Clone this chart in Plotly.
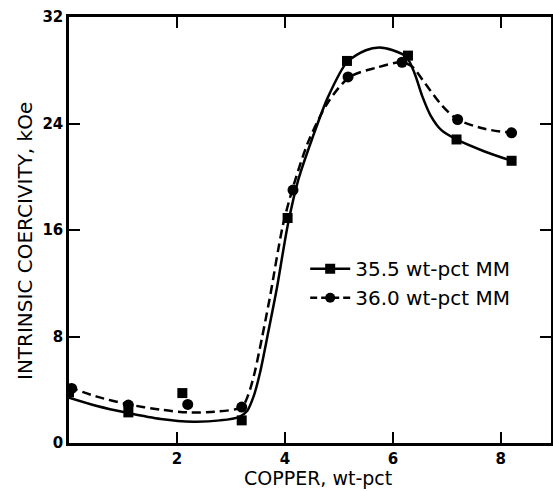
import plotly.graph_objects as go

# Measured data points
cu_a = [0.0, 1.1, 2.1, 3.2, 4.05, 5.15, 6.28, 7.18, 8.2]
hci_a = [3.8, 2.3, 3.75, 1.7, 16.9, 28.7, 29.1, 22.8, 21.2]
cu_b = [0.05, 1.1, 2.2, 3.2, 4.15, 5.17, 6.17, 7.2, 8.2]
hci_b = [4.1, 2.85, 2.9, 2.7, 19.0, 27.5, 28.6, 24.3, 23.3]

# Hand-drawn fit curves
fit_a_x = [0, 0.5, 1.1, 1.7, 2.3, 2.8, 3.15, 3.3, 3.42, 3.54, 3.7, 3.85, 4.05, 4.25, 4.5, 4.8, 5.15, 5.5, 5.75, 6.0, 6.25, 6.4, 6.55, 6.7, 6.9, 7.18, 7.7, 8.2]
fit_a_y = [3.4, 2.8, 2.25, 1.8, 1.6, 1.7, 1.95, 2.4, 3.5, 5.3, 8.5, 11.6, 16.3, 19.8, 22.8, 26.0, 28.6, 29.5, 29.7, 29.5, 29.0, 27.8, 26.0, 24.6, 23.5, 22.8, 21.9, 21.2]
fit_b_x = [0, 0.5, 1.1, 1.7, 2.2, 2.7, 3.2, 3.32, 3.44, 3.58, 3.72, 3.96, 4.15, 4.43, 4.8, 5.2, 5.7, 6.15, 6.35, 6.6, 6.9, 7.2, 7.7, 8.2]
fit_b_y = [4.2, 3.5, 2.9, 2.5, 2.3, 2.35, 2.7, 3.6, 5.3, 8.0, 10.9, 16.3, 19.2, 22.6, 25.6, 27.5, 28.2, 28.6, 28.3, 27.0, 25.4, 24.3, 23.6, 23.3]

names = ["35.5 wt-pct MM", "36.0 wt-pct MM"]
x_ticks = [2, 4, 6, 8]
y_ticks = [0, 8, 16, 24, 32]
x_title = "COPPER, wt-pct"
y_title = "INTRINSIC COERCIVITY, kOe"

FONT = "DejaVu Sans"
fig = go.Figure()
fig.add_trace(go.Scatter(x=fit_a_x, y=fit_a_y, mode="lines", line=dict(color="black", width=2.5, shape="spline", smoothing=0.8), showlegend=False, hoverinfo="skip"))
fig.add_trace(go.Scatter(x=fit_b_x, y=fit_b_y, mode="lines", line=dict(color="black", width=2.5, dash="9px,5px", shape="spline", smoothing=0.8), showlegend=False, hoverinfo="skip"))
fig.add_trace(go.Scatter(x=cu_a, y=hci_a, mode="markers", marker=dict(symbol="square", size=10, color="black"), showlegend=False))
fig.add_trace(go.Scatter(x=cu_b, y=hci_b, mode="markers", marker=dict(symbol="circle", size=11, color="black"), showlegend=False))
# legend entries
fig.add_trace(go.Scatter(x=[None], y=[None], mode="lines+markers", name=names[0], line=dict(color="black", width=2.5), marker=dict(symbol="square", size=10, color="black")))
fig.add_trace(go.Scatter(x=[None], y=[None], mode="lines+markers", name=names[1], line=dict(color="black", width=2.5, dash="7px,4px"), marker=dict(symbol="circle", size=10, color="black")))

axis_common = dict(showline=True, linecolor="black", linewidth=2.5, mirror="ticks", ticks="inside", ticklen=11, tickwidth=2, tickcolor="black", showgrid=False, zeroline=False, automargin=False, tickfont=dict(family=FONT, size=15, color="black", weight="bold"))
fig.update_xaxes(range=[0, 8.93], tickvals=x_ticks, ticktext=[str(v) for v in x_ticks], **axis_common)
fig.update_yaxes(range=[0, 32], tickvals=y_ticks, ticktext=[str(v) for v in y_ticks], **axis_common)
fig.add_annotation(text=x_title, xref="paper", yref="paper", x=(318 - 69) / 482, y=-(478 - 443) / 426, xanchor="center", yanchor="middle", showarrow=False, font=dict(family=FONT, size=19, color="black"))
fig.add_annotation(text=y_title, xref="paper", yref="paper", x=-(69 - 25) / 482, y=(443 - 241) / 426, xanchor="center", yanchor="middle", textangle=-90, showarrow=False, font=dict(family=FONT, size=20, color="black"))
fig.update_layout(width=553, height=491, margin=dict(l=69, r=2, t=17, b=48),
                  paper_bgcolor="white", plot_bgcolor="white",
                  legend=dict(x=0.49, y=0.455, xanchor="left", yanchor="top", bgcolor="rgba(0,0,0,0)",
                              font=dict(family=FONT, size=20, color="black"), itemwidth=40, tracegroupgap=0),
                  showlegend=True)
fig.write_html("out.html", config={"displayModeBar": False},
               post_script="document.body.style.margin='0';document.body.style.overflow='hidden';")
